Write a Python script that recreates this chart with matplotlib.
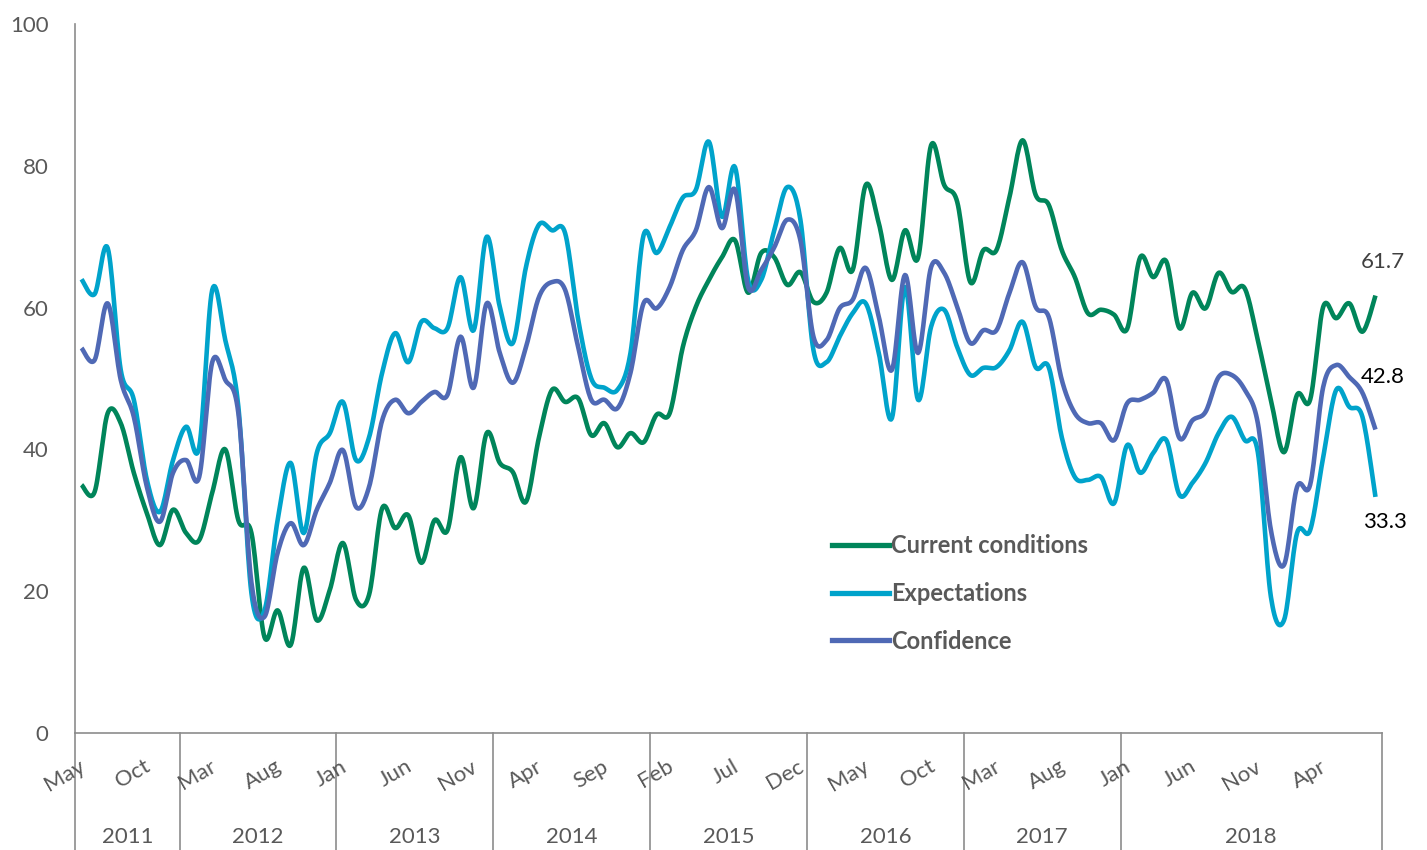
import numpy as np
import matplotlib.pyplot as plt
from matplotlib.lines import Line2D

# Monthly index values, May 2011 - Aug 2019 (100 points)
current = [35.0, 34.0, 45.1, 43.7, 36.7, 31.0, 26.5, 31.5, 28.2, 27.2,
           33.9, 40.0, 30.0, 28.2, 13.5, 17.3, 12.4, 23.3, 15.9, 20.2,
           26.8, 18.8, 19.5, 31.7, 28.9, 30.7, 24.0, 30.0, 28.6, 38.9,
           31.7, 42.3, 38.1, 36.8, 32.6, 41.7, 48.4, 46.7, 47.2, 42.0,
           43.7, 40.3, 42.3, 41.0, 44.9, 45.1, 54.4, 60.1, 63.9, 67.1,
           69.5, 62.1, 67.7, 67.1, 63.2, 65.0, 60.8, 62.1, 68.4, 65.3,
           77.3, 71.9, 63.9, 70.9, 67.0, 82.9, 77.3, 74.9, 63.6, 68.1,
           68.1, 75.6, 83.6, 75.9, 74.5, 68.1, 64.3, 59.2, 59.7, 59.0,
           57.0, 67.1, 64.3, 66.5, 57.1, 62.1, 59.9, 64.9, 62.2, 62.7,
           55.4, 47.0, 39.6, 47.7, 47.0, 60.1, 58.5, 60.6, 56.6, 61.7]

expectations = [64.0, 61.9, 68.4, 51.2, 47.0, 35.7, 31.2, 38.5, 43.2, 40.3,
                62.5, 55.4, 46.0, 19.7, 17.3, 30.0, 38.1, 28.2, 39.5, 42.3,
                46.7, 38.5, 41.7, 50.8, 56.4, 52.3, 58.0, 57.1, 57.1, 64.3,
                56.8, 70.0, 60.1, 55.0, 65.7, 71.7, 70.9, 70.5, 58.3, 50.0,
                48.7, 48.4, 53.6, 70.2, 67.7, 71.4, 75.5, 76.6, 83.4, 72.8,
                79.8, 63.9, 63.9, 70.9, 77.0, 72.4, 54.0, 52.3, 55.9, 59.2,
                60.6, 53.6, 44.4, 62.9, 47.0, 57.3, 59.7, 54.4, 50.5, 51.5,
                51.6, 54.0, 58.0, 51.6, 51.6, 41.7, 36.1, 35.7, 36.1, 32.4,
                40.6, 36.7, 39.5, 41.3, 33.6, 35.3, 38.1, 42.3, 44.6, 41.3,
                39.6, 19.2, 15.9, 28.2, 28.6, 38.9, 48.4, 46.0, 44.6, 33.3]

confidence = [54.3, 52.6, 60.6, 49.8, 44.6, 34.7, 29.8, 36.7, 38.5, 36.1,
              52.3, 49.8, 45.1, 21.2, 16.4, 25.4, 29.6, 26.5, 31.5, 35.3,
              39.9, 31.9, 34.7, 44.1, 47.0, 45.1, 46.7, 48.1, 47.7, 55.9,
              48.7, 60.6, 53.6, 49.4, 54.4, 61.5, 63.6, 62.5, 54.4, 47.0,
              47.0, 45.8, 50.8, 60.6, 59.9, 62.9, 68.1, 70.9, 77.0, 71.2,
              76.6, 62.9, 65.3, 68.5, 72.4, 69.5, 55.9, 55.4, 59.9, 61.1,
              65.6, 58.7, 51.2, 64.6, 53.6, 65.7, 64.9, 60.1, 55.0, 56.8,
              56.8, 62.1, 66.4, 60.1, 58.7, 49.8, 45.1, 43.7, 43.7, 41.3,
              46.5, 47.0, 48.0, 49.8, 41.6, 44.1, 45.3, 50.2, 50.5, 48.4,
              43.7, 28.6, 23.7, 34.7, 35.0, 48.8, 51.9, 50.2, 48.0, 42.8]

month_labels = ['May', 'Oct', 'Mar', 'Aug', 'Jan', 'Jun', 'Nov', 'Apr', 'Sep', 'Feb',
                'Jul', 'Dec', 'May', 'Oct', 'Mar', 'Aug', 'Jan', 'Jun', 'Nov', 'Apr']
years = ['2011', '2012', '2013', '2014', '2015', '2016', '2017', '2018']
months_in_group = [8, 12, 12, 12, 12, 12, 12, 20]

names = ['Current conditions', 'Expectations', 'Confidence']
colors = ['#00855A', '#00A3CB', '#4F69B5']
grey = '#595959'


def smooth(y, n=16):
    # Excel-style smoothed line: cubic Bezier through each point
    y = np.asarray(y, dtype=float)
    x = np.arange(len(y), dtype=float)
    pts = np.column_stack([x, y])
    t = np.linspace(0, 1, n)[:, None]
    out = []
    for i in range(len(pts) - 1):
        p0 = pts[max(i - 1, 0)]
        p1 = pts[i]
        p2 = pts[i + 1]
        p3 = pts[min(i + 2, len(pts) - 1)]
        c1 = p1 + (p2 - p0) / 6
        c2 = p2 - (p3 - p1) / 6
        seg = ((1 - t) ** 3) * p1 + 3 * ((1 - t) ** 2) * t * c1 + 3 * (1 - t) * t ** 2 * c2 + t ** 3 * p2
        out.append(seg if i == 0 else seg[1:])
    out = np.vstack(out)
    return out[:, 0], out[:, 1]


plt.rcParams['font.family'] = ['Lato', 'DejaVu Sans']

fig = plt.figure(figsize=(14.27, 8.5), dpi=100)
ax = fig.add_axes([75 / 1427, 1 - 733 / 850, (1382 - 75) / 1427, (733 - 24) / 850])

for series, name, c in zip([current, expectations, confidence], names, colors):
    sx, sy = smooth(series)
    ax.plot(sx, sy, color=c, linewidth=3.3, solid_capstyle='butt', label=name)

ax.set_xlim(-0.5, len(current) - 0.5)
ax.set_ylim(0, 100)
ax.set_yticks(range(0, 101, 20))
ax.tick_params(axis='y', length=0, pad=19, labelsize=16, labelcolor=grey)
ax.set_xticks([])

for side in ['top', 'right']:
    ax.spines[side].set_visible(False)
for side in ['left', 'bottom']:
    ax.spines[side].set_color('#8c8c8c')
    ax.spines[side].set_linewidth(1.2)

# multi-level category axis
trans = ax.get_xaxis_transform()
for k, lab in enumerate(month_labels):
    ax.text(k * 5 + 0.15, -0.045, lab, transform=trans, rotation=30,
            rotation_mode='anchor', ha='right', va='center',
            fontsize=16, color=grey)

edge = -0.5
ax.plot([edge, edge], [0, -0.17], transform=trans, color='#8c8c8c', lw=1.2, clip_on=False)
for yr, n in zip(years, months_in_group):
    ax.text(edge + n / 2, -0.147, yr, transform=trans, ha='center', va='center',
            fontsize=16, color=grey)
    edge += n
    ax.plot([edge, edge], [0, -0.17], transform=trans, color='#8c8c8c', lw=1.2, clip_on=False)

# end-of-series labels
last = len(current) - 1
ax.annotate(f'{current[-1]:.1f}', (last, current[-1]), xytext=(5, 24),
            textcoords='offset points', ha='center', va='center', fontsize=16, color='#404040')
ax.annotate(f'{confidence[-1]:.1f}', (last, confidence[-1]), xytext=(5, 38),
            textcoords='offset points', ha='center', va='center', fontsize=16, color='black')
ax.annotate(f'{expectations[-1]:.1f}', (last, expectations[-1]), xytext=(7, -18),
            textcoords='offset points', ha='center', va='center', fontsize=16, color='black')

handles = [Line2D([], [], color=c, lw=3.8) for c in colors]
leg = ax.legend(handles, names, loc='upper left', bbox_to_anchor=(832 / 1427, 1 - 534 / 850),
                bbox_transform=fig.transFigure, frameon=False, borderpad=0, borderaxespad=0,
                handlelength=2.4, handletextpad=0.1, labelspacing=1.05,
                prop={'weight': 'bold', 'size': 17})
for t in leg.get_texts():
    t.set_color(grey)

fig.savefig('out.png', dpi=100)
